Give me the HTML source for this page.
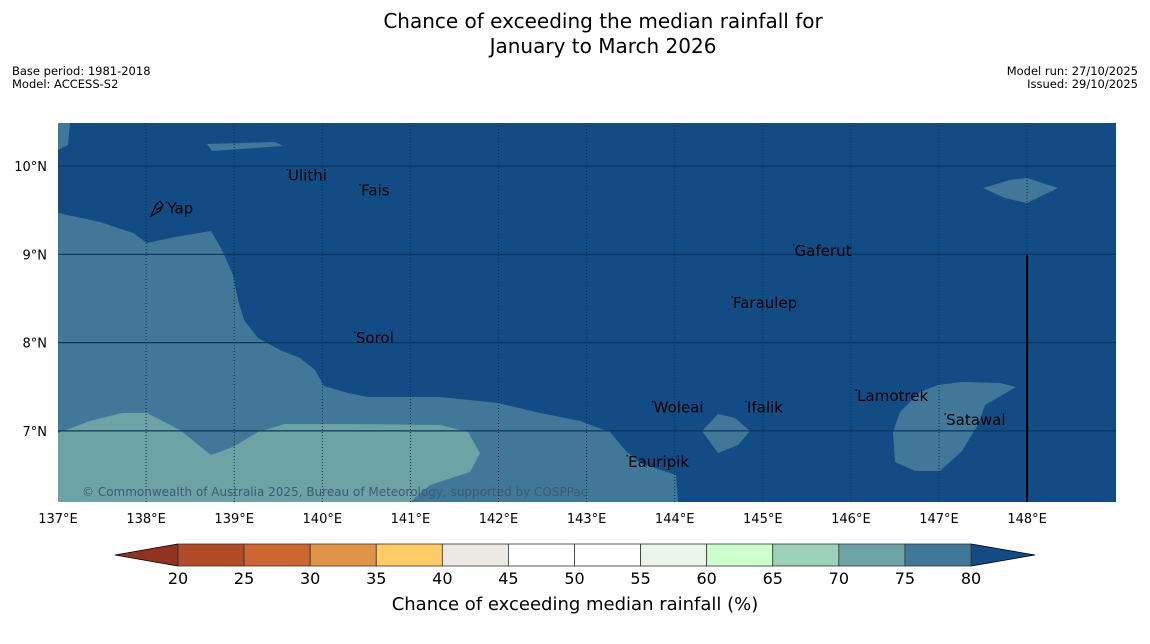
<!DOCTYPE html>
<html><head><meta charset="utf-8"><style>
body{margin:0;background:#fff;width:1150px;height:644px;overflow:hidden;font-family:"DejaVu Sans","Liberation Sans",sans-serif;}
svg{display:block}
</style></head><body>
<svg width="1150" height="644" xmlns="http://www.w3.org/2000/svg">
<g id="hdr" font-family="DejaVu Sans, Liberation Sans, sans-serif" fill="#000">
<text x="603" y="28" font-size="20" text-anchor="middle">Chance of exceeding the median rainfall for</text>
<text x="603" y="53" font-size="20" text-anchor="middle">January to March 2026</text>
<text x="12" y="75" font-size="11.5">Base period: 1981-2018</text>
<text x="12" y="88" font-size="11.5">Model: ACCESS-S2</text>
<text x="1138" y="75" font-size="11.5" text-anchor="end">Model run: 27/10/2025</text>
<text x="1138" y="88" font-size="11.5" text-anchor="end">Issued: 29/10/2025</text>
</g>
<g id="map"></g>
<g id="cbar"></g>
</svg>
<script>
const NS="http://www.w3.org/2000/svg";
const lonTicks=[137,138,139,140,141,142,143,144,145,146,147,148];
const latTicks=[7,8,9,10];
const cbBounds=[20,25,30,35,40,45,50,55,60,65,70,75,80];
const cbColors=["#b04a27","#cc6633","#e09448","#fecb67","#ece9e5","#ffffff","#ffffff","#eaf5e9","#ccffcc","#9dd2b9","#6ea3a6","#41789a"];
const places=[["Ulithi",139.60,9.89],["Fais",140.43,9.72],["Yap",138.23,9.52],["Gaferut",145.35,9.04],["Faraulep",144.65,8.45],["Sorol",140.37,8.05],["Woleai",143.75,7.265],["Ifalik",144.81,7.265],["Lamotrek",146.06,7.395],["Satawal",147.07,7.125],["Eauripik",143.46,6.65]];
const X0=58,X1=1116,Y0=123,Y1=502;
const lx=l=>58+(l-137)*88.1, ly=a=>166+(10-a)*88.3;
function el(t,a,p){const e=document.createElementNS(NS,t);for(const k in a)e.setAttribute(k,a[k]);p.appendChild(e);return e;}
const map=document.getElementById('map');
el('rect',{x:X0,y:Y0,width:X1-X0,height:Y1-Y0,fill:'#134b84'},map);
const shapes=[
 ["#41789a","58,213 100,222 133,233 147,243 175,237 211,231 222,250 233,275 238,300 244,320 258,338 280,350 300,358 315,370 324,386 348,393 368,397 440,397 498,403 540,413 580,421 610,432 625,450 640,463 676,475 678,502 58,502"],
 ["#6ea3a6","58,433 90,421 122,413 147,413 180,430 211,455 233,447 258,432 285,424 340,424 440,425 468,432 480,453 470,472 430,485 410,502 58,502"],
 ["#41789a","58,123 70,123 68,145 58,150"],
 ["#41789a","207,144 212,151 283,146 275,142"],
 ["#41789a","983,188 1010,180 1027,178 1058,188 1027,203 1005,198"],
 ["#41789a","702,431 718,414 735,418 750,431 738,445 718,453"],
 ["#41789a","893,432 900,412 920,392 938,385 962,382 1000,383 1016,387 985,405 978,425 962,451 940,471 915,471 895,462"]];
shapes.forEach((s,i)=>{const p=el('polygon',{points:s[1],fill:s[0]},map);

});
lonTicks.forEach(l=>{const x=lx(l);
 if(l>137){const g=el('line',{x1:x,y1:Y0,x2:x,y2:Y1,stroke:'#0a2c4e','stroke-width':1,'stroke-dasharray':'1,2'},map);
 
 }
 const t=el('text',{x:x,y:523,'font-size':13,'text-anchor':'middle'},map);t.textContent=l+'°E';
 
 });
latTicks.forEach(a=>{const y=ly(a);
 const g=el('line',{x1:X0,y1:y,x2:X1,y2:y,stroke:'#0c3560','stroke-width':1.2},map);
 
 
 const t=el('text',{x:47,y:y+5,'font-size':13,'text-anchor':'end'},map);t.textContent=a+'°N';
 
 });
const bl=el('line',{x1:lx(148),y1:ly(9),x2:lx(148),y2:Y1,stroke:'#000','stroke-width':2},map);


const yi=el('path',{d:'M151,216 L156,205 L160,201 L163,205 L160,211 Z M156,210 L163,206',fill:'none',stroke:'#000','stroke-width':1.2},map);


places.forEach(p=>{const x=lx(p[1]),y=ly(p[2]);
 const d=el('circle',{cx:x,cy:y-6,r:0.8,fill:'#000'},map);
 
 
 const t=el('text',{x:x+1,y:y+5,'font-size':15,fill:'#000'},map);t.textContent=p[0];
 
 });
const cp=el('text',{x:82,y:496,'font-size':12,fill:'#3d5a70'},map);cp.textContent='© Commonwealth of Australia 2025, Bureau of Meteorology, supported by COSPPac';


const cb=document.getElementById('cbar');
const cx=v=>178+(v-20)*(971-178)/60, CY0=544, CY1=566;
const lt=el('polygon',{points:`115,555 178,${CY0} 178,${CY1}`,fill:'#923322',stroke:'#000','stroke-width':0.8},cb);


const rt=el('polygon',{points:`1035,555 971,${CY0} 971,${CY1}`,fill:'#134b84',stroke:'#000','stroke-width':0.8},cb);


cbColors.forEach((c,i)=>{const r=el('rect',{x:cx(cbBounds[i]),y:CY0,width:cx(cbBounds[i+1])-cx(cbBounds[i]),height:CY1-CY0,fill:c,stroke:'#333','stroke-width':0.8},cb);
 
 });
cbBounds.forEach(v=>{const t=el('text',{x:cx(v),y:584,'font-size':16,'text-anchor':'middle'},cb);t.textContent=v;
 
 });
const ct=el('text',{x:575,y:610,'font-size':18,'text-anchor':'middle'},cb);ct.textContent='Chance of exceeding median rainfall (%)';


</script>
</body></html>
